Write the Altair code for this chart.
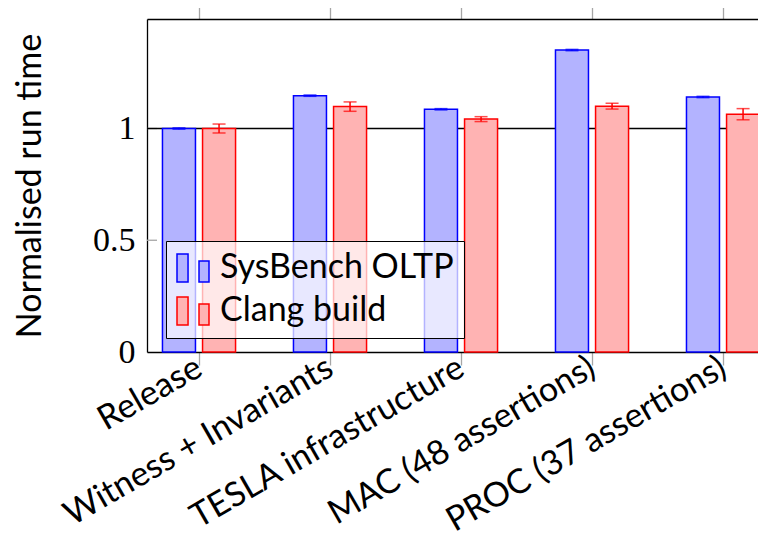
import json
import altair as alt
import pandas as pd

categories = ["Release", "Witness + Invariants", "TESLA infrastructure",
              "MAC (48 assertions)", "PROC (37 assertions)"]
series_names = ["SysBench OLTP", "Clang build"]
sysbench = [1.000, 1.147, 1.086, 1.351, 1.141]
sysbench_err = [0.003, 0.003, 0.003, 0.003, 0.003]
clang = [1.000, 1.098, 1.042, 1.100, 1.064]
clang_err = [0.020, 0.021, 0.011, 0.013, 0.025]
y_ticks = [0, 0.5, 1]
ref_line = [1]
fills = ["#b3b3ff", "#ffb3b3"]
strokes = ["#0000ff", "#ff0000"]

rows = []
for i, c in enumerate(categories):
    for side, s, vals, errs in ((-1, series_names[0], sysbench, sysbench_err),
                                (1, series_names[1], clang, clang_err)):
        rows.append({"idx": i, "category": c, "series": s, "value": vals[i],
                     "err": errs[i], "side": side})
df = pd.DataFrame(rows)

X_DOMAIN = [-0.397, 4.267]
OFFSET = 0.153
SANS = "Lato"
SERIF = "Liberation Serif"
FS = 34
TICK_GRAY = "#a6a6a6"

xscale = alt.Scale(domain=X_DOMAIN, nice=False, zero=False, padding=0)
yscale = alt.Scale(domain=[0, 1.49], nice=False, padding=0)
idx_values = list(range(len(categories)))
label_expr = json.dumps(categories) + "[datum.value]"

bottom_axis = alt.Axis(orient="bottom", values=idx_values, labelExpr=label_expr,
                       labelAngle=-30, labelAlign="right", labelBaseline="middle",
                       labelFont=SANS, labelFontSize=34, labelColor="black",
                       labelPadding=0, labelOverlap=False, labelFlush=False,
                       labelLimit=1000,
                       tickColor=TICK_GRAY, tickSize=13, tickWidth=1.3,
                       domainColor="black", domainWidth=1.3, grid=False, title=None)
top_axis = alt.Axis(orient="top", values=idx_values, labels=False,
                    tickColor=TICK_GRAY, tickSize=14, tickWidth=1.3,
                    domainColor="black", domainWidth=1.3, grid=False, title=None)
left_axis = alt.Axis(values=y_ticks, format=".1~f", ticks=False, labelPadding=12,
                     labelFont=SERIF, labelFontSize=FS, labelColor="black",
                     domainColor="black", domainWidth=1.3, grid=False,
                     title="Normalised run time", titleFont=SANS, titleFontSize=FS,
                     titleFontWeight="normal", titleColor="black",
                     titleX=-107, titleY=166.5, titleAngle=270,
                     titleAlign="center", titleBaseline="alphabetic")

SYMBOL = "M-1,-0.875H-0.31V0.875H-1Z M0.375,-0.44H1V0.875H0.375Z"
legend = alt.Legend(title=None, orient="none", legendX=19, legendY=222,
                    symbolType=SYMBOL, symbolSize=1024, symbolStrokeWidth=1.5,
                    labelFont=SANS, labelFontSize=FS, labelColor="black",
                    labelOffset=10, labelLimit=600, padding=10, rowPadding=9,
                    fillColor="rgba(255,255,255,0.7)", strokeColor="black")

base = alt.Chart(df).transform_calculate(
    xpos=f"datum.idx + datum.side * {OFFSET}",
    lo="datum.value - datum.err",
    hi="datum.value + datum.err",
)

ytick_rules = alt.Chart(pd.DataFrame({"t": y_ticks[1:]})).mark_rule(
    color=TICK_GRAY, strokeWidth=1.3
).encode(x=alt.value(0), x2=alt.value(10), y=alt.Y("t:Q", scale=yscale, axis=None))

ref = alt.Chart(pd.DataFrame({"r": ref_line})).mark_rule(
    color="black", strokeWidth=1.3
).encode(y=alt.Y("r:Q", scale=yscale, axis=None))

bars = base.mark_bar(orient="vertical", size=33, strokeWidth=1.5).encode(
    x=alt.X("xpos:Q", scale=xscale, axis=bottom_axis),
    y=alt.Y("value:Q", scale=yscale, axis=left_axis),
    fill=alt.Fill("series:N", scale=alt.Scale(domain=series_names, range=fills), legend=legend),
    stroke=alt.Stroke("series:N", scale=alt.Scale(domain=series_names, range=strokes), legend=legend),
)

err_color = alt.Color("series:N", scale=alt.Scale(domain=series_names, range=strokes), legend=None)

err_rules = base.mark_rule(strokeWidth=1.5).encode(
    x=alt.X("xpos:Q", scale=xscale, axis=top_axis),
    y=alt.Y("lo:Q", scale=yscale, axis=None),
    y2="hi:Q",
    color=err_color,
)

caps = base.transform_fold(["lo", "hi"], as_=["end", "yv"]).mark_tick(
    orient="horizontal", size=13, thickness=1.5
).encode(
    x=alt.X("xpos:Q", scale=xscale, axis=None),
    y=alt.Y("yv:Q", scale=yscale, axis=None),
    color=err_color,
)

chart = alt.layer(ytick_rules, ref, bars, err_rules, caps).resolve_axis(
    x="independent", y="independent"
).properties(
    width=611, height=333,
    padding={"left": 139, "top": 11, "right": 0, "bottom": 190},
    autosize=alt.AutoSizeParams(type="none"),
    background="white",
).configure_view(stroke=None)

chart.save("out.html", embed_options={"renderer": "svg", "actions": False})
